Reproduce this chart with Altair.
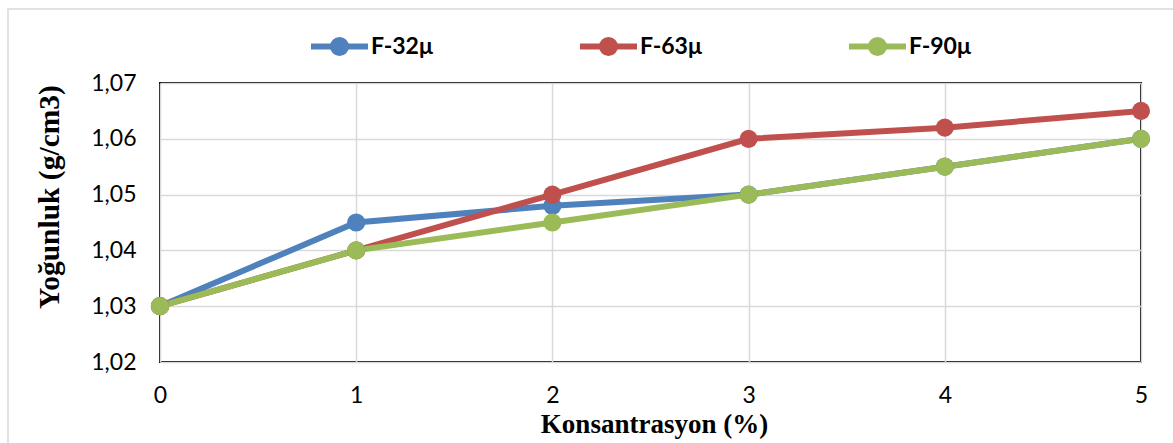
import altair as alt
import pandas as pd

# Concentration (%) on the x axis
konsantrasyon = [0, 1, 2, 3, 4, 5]

# Density series (g/cm3) for each particle size
series_names = ["F-32μ", "F-63μ", "F-90μ"]
f32 = [1.030, 1.045, 1.048, 1.050, 1.055, 1.060]
f63 = [1.030, 1.040, 1.050, 1.060, 1.062, 1.065]
f90 = [1.030, 1.040, 1.045, 1.050, 1.055, 1.060]
series_colors = ["#4f81bd", "#c0504d", "#9bbb59"]

x_ticks = [0, 1, 2, 3, 4, 5]
y_ticks = [1.02, 1.03, 1.04, 1.05, 1.06, 1.07]

rows = []
for idx, (name, values) in enumerate(zip(series_names, [f32, f63, f90])):
    for k, v in zip(konsantrasyon, values):
        rows.append({"seri": name, "sira": idx, "k": k, "yogunluk": v})
df = pd.DataFrame(rows)

# Legend glyph: a stroked line with two concentric rings that together read as a dot
legend_symbol = (
    "M-1,0H1 "
    "M0.105,0A0.105,0.105 0 1,1 -0.105,0A0.105,0.105 0 1,1 0.105,0 "
    "M0.228,0A0.228,0.228 0 1,1 -0.228,0A0.228,0.228 0 1,1 0.228,0"
)

tick_font = "Lato"
title_font = "Liberation Serif"

x_enc = alt.X(
    "k:Q",
    scale=alt.Scale(domain=[0, 5], nice=False),
    axis=alt.Axis(
        values=x_ticks,
        title="Konsantrasyon (%)",
        format="d",
        domain=False,
        ticks=False,
        labelFlush=False,
        labelFont=tick_font,
        labelFontSize=23,
        labelColor="#000000",
        labelPadding=22,
        grid=True,
        gridColor="#d9d9d9",
        gridWidth=1.5,
        titleFont=title_font,
        titleFontSize=27,
        titleFontWeight="bold",
        titleColor="#000000",
        titleBaseline="alphabetic",
        titleX=494,
        titleY=70,
    ),
)

y_enc = alt.Y(
    "yogunluk:Q",
    scale=alt.Scale(domain=[1.02, 1.07], nice=False, zero=False),
    axis=alt.Axis(
        values=y_ticks,
        labelExpr="replace(format(datum.value, '.2f'), '.', ',')",
        title="Yoğunluk (g/cm3)",
        domain=False,
        ticks=False,
        labelFlush=False,
        labelFont=tick_font,
        labelFontSize=23,
        labelColor="#000000",
        labelPadding=24,
        grid=True,
        gridColor="#d9d9d9",
        gridWidth=1.5,
        titleFont=title_font,
        titleFontSize=29.5,
        titleFontWeight="bold",
        titleColor="#000000",
        titleAngle=-90,
        titleAlign="center",
        titleBaseline="alphabetic",
        titleX=-102,
        titleY=113.5,
    ),
)

series_legend = alt.Legend(
    title=None,
    orient="none",
    legendX=148,
    legendY=-68,
    direction="horizontal",
    symbolType=legend_symbol,
    symbolSize=3249,
    symbolStrokeWidth=6,
    symbolOpacity=1,
    labelFont=tick_font,
    labelFontSize=23,
    labelFontWeight="bold",
    labelColor="#000000",
    labelOffset=0,
    columnPadding=135,
    padding=0,
)

color_enc = alt.Color(
    "seri:N",
    scale=alt.Scale(domain=series_names, range=series_colors),
    legend=series_legend,
)

base = alt.Chart(df)

lines = base.mark_line(strokeWidth=6).encode(
    x=x_enc,
    y=y_enc,
    color=color_enc,
    order=alt.Order("k:Q"),
)

points = base.mark_circle(size=330, opacity=1).encode(
    x="k:Q",
    y="yogunluk:Q",
    color=color_enc,
    order=alt.Order("sira:Q"),
)

# Light outer frame around the whole figure
frame = alt.Chart(alt.Data(values=[{"a": 1}])).mark_rect(
    fill=None, stroke="#d9d9d9", strokeWidth=1.5
).encode(
    x=alt.value(-152),
    x2=alt.value(1030),
    y=alt.value(-74),
    y2=alt.value(380),
)

chart = (
    alt.layer(lines, points, frame)
    .properties(
        width=981,
        height=279,
        autosize=alt.AutoSizeParams(type="none"),
        padding={"left": 160, "top": 83, "right": 32, "bottom": 81},
        background="#ffffff",
    )
    .configure_view(stroke="#000000", strokeWidth=2)
)

chart.save("out.html", embed_options={"renderer": "svg", "actions": False})
